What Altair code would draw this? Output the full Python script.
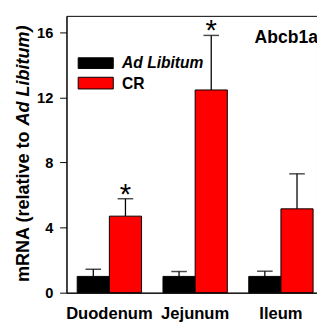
import altair as alt
import pandas as pd

categories = ["Duodenum", "Jejunum", "Ileum"]
groups = ["Ad Libitum", "CR"]
al_mean = [1.0, 1.0, 1.0]
al_sem = [0.44, 0.30, 0.32]
cr_mean = [4.7, 12.45, 5.15]
cr_sem = [1.07, 3.35, 2.15]
cr_sig = ["*", "*", ""]
y_ticks = [0, 2, 4, 6, 8, 10, 12, 14, 16]
gene = "Abcb1a"
title_main = "mRNA (relative to "
title_italic = "Ad Libitum)"

rows = []
for i, c in enumerate(categories):
    rows.append(dict(cat=c, grp=groups[0], mean=al_mean[i], sem=al_sem[i], sig=""))
    rows.append(dict(cat=c, grp=groups[1], mean=cr_mean[i], sem=cr_sem[i], sig=cr_sig[i]))
df = pd.DataFrame(rows)
df["upper"] = df["mean"] + df["sem"]

FONT = "Liberation Sans"

x = alt.X("cat:N", sort=categories,
          scale=alt.Scale(paddingInner=0.25, paddingOuter=0.0852, align=0.733),
          axis=alt.Axis(title=None, ticks=False, labelPadding=13, labelFontSize=17,
                        labelFontWeight="bold", labelAngle=0, labelFont=FONT,
                        labelColor="black", domainColor="black"))
xo = alt.XOffset("grp:N", sort=groups, scale=alt.Scale(paddingInner=0, paddingOuter=0))
yscale = alt.Scale(domain=[0, 17], nice=False, zero=True)

base = alt.Chart(df)

bars = base.mark_bar(stroke="black", strokeWidth=1).encode(
    x=x, xOffset=xo,
    y=alt.Y("mean:Q", scale=yscale,
            axis=alt.Axis(title=None, values=y_ticks,
                          labelExpr="datum.value % 4 === 0 ? datum.label : ''",
                          tickSize=7, labelPadding=7, labelFontSize=15,
                          labelFontWeight="bold", labelFont=FONT, labelColor="black",
                          tickColor="black", domainColor="black")),
    color=alt.Color("grp:N", scale=alt.Scale(domain=groups, range=["black", "#ff0000"]),
                    legend=None),
)

err = base.mark_rule(color="black", strokeWidth=1.3).encode(
    x=x, xOffset=xo, y="mean:Q", y2="upper:Q")
caps = base.mark_tick(color="black", thickness=1.5, size=16).encode(
    x=x, xOffset=xo, y=alt.Y("upper:Q", scale=yscale))
stars = base.transform_filter("datum.sig != ''").mark_text(
    fontSize=30, dy=5, baseline="alphabetic", font=FONT, color="black").encode(
    x=x, xOffset=xo, y=alt.Y("upper:Q", scale=yscale), text="sig:N")

# legend
leg_black = alt.Chart(pd.DataFrame({"grp": [groups[0]]})).mark_rect(
    color="black", stroke="black").encode(
    x=alt.value(12), x2=alt.value(48), y=alt.value(43), y2=alt.value(54))
leg_red = alt.Chart(pd.DataFrame({"grp": [groups[1]]})).mark_rect(
    color="#ff0000", stroke="black", strokeWidth=1).encode(
    x=alt.value(12), x2=alt.value(48), y=alt.value(63), y2=alt.value(75))
leg_t1 = alt.Chart(pd.DataFrame({"t": [groups[0]]})).mark_text(
    align="left", baseline="alphabetic", fontSize=16, fontWeight="bold",
    fontStyle="italic", font=FONT, color="black").encode(
    x=alt.value(57), y=alt.value(54), text="t:N")
leg_t2 = alt.Chart(pd.DataFrame({"t": [groups[1]]})).mark_text(
    align="left", baseline="alphabetic", fontSize=16, fontWeight="bold",
    font=FONT, color="black").encode(
    x=alt.value(57), y=alt.value(75), text="t:N")

gene_t = alt.Chart(pd.DataFrame({"t": [gene]})).mark_text(
    align="left", baseline="alphabetic", fontSize=18, fontWeight="bold",
    font=FONT, color="black").encode(
    x=alt.value(193), y=alt.value(27.5), text="t:N")

yt1 = alt.Chart(pd.DataFrame({"t": [title_main]})).mark_text(
    angle=270, align="left", baseline="alphabetic", fontSize=18.5, fontWeight="bold",
    font=FONT, color="black").encode(
    x=alt.value(-38), y=alt.value(273), text="t:N")
yt2 = alt.Chart(pd.DataFrame({"t": [title_italic]})).mark_text(
    angle=270, align="left", baseline="alphabetic", fontSize=18.5, fontWeight="bold",
    fontStyle="italic", font=FONT, color="black").encode(
    x=alt.value(-38), y=alt.value(112.6), text="t:N")

chart = alt.layer(bars, err, caps, stars, leg_black, leg_red, leg_t1, leg_t2,
                  gene_t, yt1, yt2).properties(
    width=257, height=284,
    padding={"left": 60, "top": 4, "right": 0, "bottom": 26},
    autosize=alt.AutoSizeParams(type="none"),
).configure_view(stroke="black", strokeWidth=1).configure_axis(grid=False)

chart.save("out.html", embed_options={"renderer": "svg", "actions": False})
